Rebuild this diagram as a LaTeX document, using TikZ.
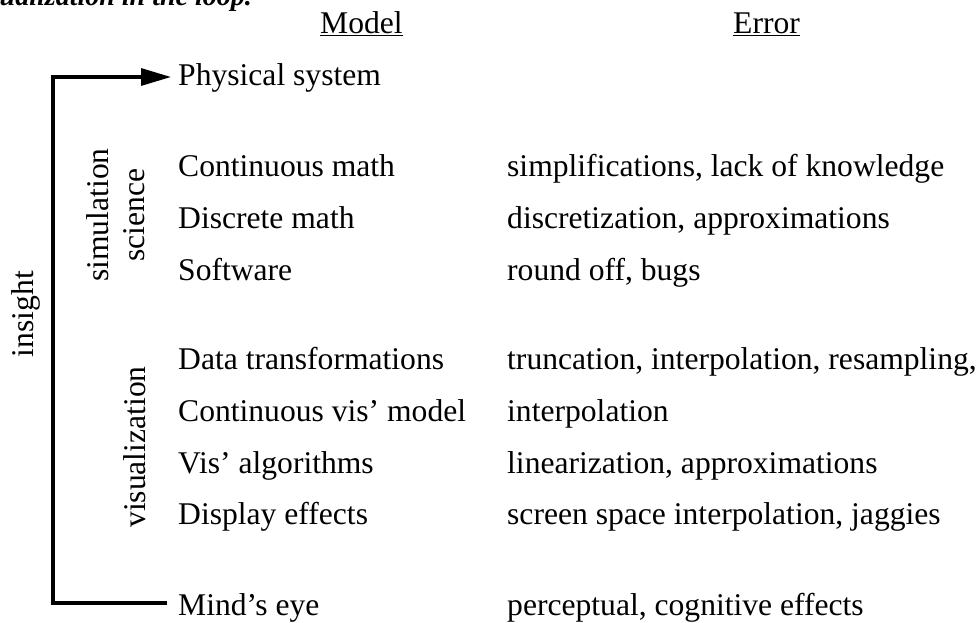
\documentclass[tikz,border=0pt]{standalone}
\usepackage{fontspec}
\setmainfont{Liberation Serif}
\usetikzlibrary{arrows.meta}
\begin{document}
\begin{tikzpicture}[x=1pt,y=-1pt,
  txt/.style={font=\fontsize{31.6}{38}\selectfont, inner sep=0pt, anchor=base west},
  rot/.style={font=\fontsize{31.6}{34}\selectfont, inner sep=0pt, rotate=90, anchor=base},
  loopline/.style={line width=3.2pt, line join=miter, -{Triangle[length=30pt,width=17pt]}}]
\useasboundingbox (0,0) rectangle (980,622);
% clipped caption fragment at top
\node[txt, anchor=base east, font=\fontsize{28}{34}\selectfont\bfseries\itshape] (cap) at (252,5) {visualization in the loop.};
% headers
\node[txt] (hmodel) at (320,33) {\underline{Model}};
\node[txt] (herror) at (733,33) {\underline{Error}};
% model column
\node[txt] (phys) at (178,85) {Physical system};
\node[txt] (cmath) at (178,176) {Continuous math};
\node[txt] (dmath) at (178,228) {Discrete math};
\node[txt] (soft) at (178,280) {Software};
\node[txt] (dtrans) at (178,369) {Data transformations};
\node[txt] (cvis) at (178,421) {Continuous vis' model};
\node[txt] (valg) at (178,473) {Vis' algorithms};
\node[txt] (disp) at (178,524) {Display effects};
\node[txt] (mind) at (178,615) {Mind's eye};
% error column
\node[txt] (e1) at (507,176) {simplifications, lack of knowledge};
\node[txt] (e2) at (507,228) {discretization, approximations};
\node[txt] (e3) at (507,280) {round off, bugs};
\node[txt] (e4) at (507,369) {truncation, interpolation, resampling,};
\node[txt] (e5) at (507,421) {interpolation};
\node[txt] (e6) at (507,473) {linearization, approximations};
\node[txt] (e7) at (507,524) {screen space interpolation, jaggies};
\node[txt] (e8) at (507,615) {perceptual, cognitive effects};
% rotated labels
\node[rot] (insight) at (33,314) {insight};
\node[rot] (sim) at (108,215) {simulation};
\node[rot] (sci) at (144,215) {science};
\node[rot] (vislab) at (145,447) {visualization};
% loop connector
\coordinate (loopStart) at (167,603);
\coordinate (loopB) at (53,603);
\coordinate (loopT) at (53,77);
\coordinate (loopEnd) at (171,77);
\draw[loopline] (loopStart) -- (loopB) -- (loopT) -- (loopEnd);
\end{tikzpicture}
\end{document}
